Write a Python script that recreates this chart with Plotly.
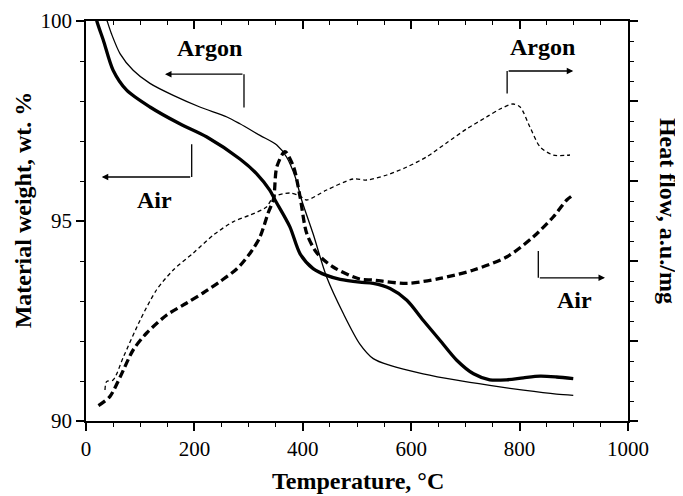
import plotly.graph_objects as go

# ---- data ----
# TG, Argon (thin solid), left axis wt.%
argon_tg_T = [30, 39, 47, 63, 87, 118, 161, 210, 260, 284, 321, 352, 370, 386, 398, 419, 444, 475, 505, 530, 561, 622, 684, 745, 807, 868, 899]
argon_tg_w = [100.4, 100, 99.68, 99.18, 98.77, 98.44, 98.14, 97.85, 97.6, 97.43, 97.14, 96.9, 96.6, 96.1, 95.52, 94.68, 93.6, 92.68, 91.93, 91.56, 91.39, 91.18, 91.02, 90.89, 90.77, 90.67, 90.64]

# TG, Air (thick solid), left axis wt.%
air_tg_T = [14, 20, 32, 50, 75, 118, 173, 223, 284, 315, 339, 349, 376, 395, 419, 444, 469, 505, 530, 561, 592, 622, 653, 684, 715, 745, 776, 807, 838, 868, 899]
air_tg_w = [100.4, 100, 99.52, 98.77, 98.27, 97.85, 97.43, 97.1, 96.55, 96.18, 95.77, 95.52, 94.86, 94.18, 93.81, 93.64, 93.54, 93.47, 93.44, 93.31, 93.02, 92.52, 92.02, 91.52, 91.18, 91.03, 91.03, 91.08, 91.12, 91.1, 91.06]

# DSC, Air (thick dashed), right axis heat flow (a.u.)
air_dsc_T = [23, 44, 63, 87, 112, 149, 186, 216, 247, 278, 303, 321, 336, 346, 352, 367, 383, 395, 407, 426, 456, 505, 530, 592, 653, 715, 776, 825, 862, 887, 899]
air_dsc_h = [0.77, 1.22, 2.2, 3.55, 4.4, 5.3, 5.9, 6.4, 6.97, 7.6, 8.4, 9.2, 10.4, 11.1, 12.7, 13.47, 12.7, 11.2, 9.4, 8.4, 7.7, 7.1, 7.05, 6.88, 7.13, 7.55, 8.2, 9.2, 10.2, 11.05, 11.3]

# DSC, Argon (thin dashed), right axis heat flow (a.u.)
argon_dsc_T = [35, 38, 50, 69, 100, 130, 161, 198, 235, 272, 303, 333, 346, 376, 395, 407, 444, 493, 518, 555, 592, 628, 665, 702, 739, 764, 788, 801, 819, 838, 862, 893]
argon_dsc_h = [1.55, 1.97, 2.05, 3.2, 5.05, 6.55, 7.55, 8.4, 9.3, 9.97, 10.3, 10.7, 11.2, 11.4, 11.25, 11.05, 11.55, 12.1, 12.05, 12.3, 12.7, 13.2, 13.9, 14.6, 15.2, 15.6, 15.85, 15.7, 14.7, 13.7, 13.3, 13.3]

x_tick_vals = [0, 200, 400, 600, 800, 1000]
y_tick_vals = [90, 95, 100]

FONT = "Liberation Serif"
BLACK = "black"

fig = go.Figure()
fig.add_trace(go.Scatter(x=argon_tg_T, y=argon_tg_w, mode="lines", xaxis="x", yaxis="y",
                         line=dict(color=BLACK, width=1.3, shape="spline", smoothing=0.8), showlegend=False))
fig.add_trace(go.Scatter(x=air_tg_T, y=air_tg_w, mode="lines", xaxis="x", yaxis="y",
                         line=dict(color=BLACK, width=3.3, shape="spline", smoothing=0.8), showlegend=False))
fig.add_trace(go.Scatter(x=air_dsc_T, y=air_dsc_h, mode="lines", xaxis="x2", yaxis="y2",
                         line=dict(color=BLACK, width=3.3, dash="8px,4px", shape="spline", smoothing=0.8), showlegend=False))
fig.add_trace(go.Scatter(x=argon_dsc_T, y=argon_dsc_h, mode="lines", xaxis="x2", yaxis="y2",
                         line=dict(color=BLACK, width=1.3, dash="4px,3px", shape="spline", smoothing=0.8), showlegend=False))

axis_common = dict(showline=True, linecolor=BLACK, linewidth=1.5, showgrid=False, zeroline=False,
                   tickcolor=BLACK, tickwidth=1.5, ticklen=8)

# the page body has an 8px margin, so the figure is offset by 8px inside the window
fig.update_layout(
    width=675, height=488,
    margin=dict(l=78, r=55, t=13, b=75, autoexpand=False),
    paper_bgcolor="white", plot_bgcolor="white",
    font=dict(family=FONT, color=BLACK, size=21),
    xaxis=dict(range=[0, 1000], tickvals=x_tick_vals, ticks="outside",
               minor=dict(dtick=50, tick0=0, ticks="outside", ticklen=4, tickwidth=1.2, tickcolor=BLACK),
               tickfont=dict(family=FONT, size=21, color=BLACK), anchor="y", **axis_common),
    xaxis2=dict(range=[0, 1000], tickvals=x_tick_vals, ticks="inside", side="top", overlaying="x",
                anchor="y2", showticklabels=False,
                minor=dict(dtick=50, tick0=0, ticks="inside", ticklen=4, tickwidth=1.2, tickcolor=BLACK),
                **axis_common),
    yaxis=dict(range=[90, 100], tickvals=y_tick_vals, ticks="outside",
               minor=dict(dtick=1, tick0=90, ticks="outside", ticklen=4, tickwidth=1.2, tickcolor=BLACK),
               tickfont=dict(family=FONT, size=21, color=BLACK), anchor="x", **axis_common),
    yaxis2=dict(range=[0, 20], dtick=4, tick0=0, ticks="outside", side="right", overlaying="y",
                anchor="x", showticklabels=False,
                minor=dict(dtick=1, tick0=0, ticks="outside", ticklen=4, tickwidth=1.2, tickcolor=BLACK),
                **axis_common),
)

title_font = dict(family=FONT, size=24, color=BLACK)
ann_font = dict(family=FONT, size=24, color=BLACK)

annotations = [
    dict(text="<b>Temperature, °C</b>", xref="paper", yref="paper", x=0.502, y=-0.15,
         showarrow=False, font=title_font, xanchor="center", yanchor="middle"),
    dict(text="<b>Material weight, wt. %</b>", xref="paper", yref="paper", x=-0.116, y=0.527,
         showarrow=False, font=title_font, textangle=-90, xanchor="center", yanchor="middle"),
    dict(text="<b>Heat flow, a.u./mg</b>", xref="paper", yref="paper", x=1.074, y=0.525,
         showarrow=False, font=title_font, textangle=90, xanchor="center", yanchor="middle"),
    # labels
    dict(text="<b>Argon</b>", xref="x", yref="y", x=227, y=99.32, showarrow=False, font=ann_font),
    dict(text="<b>Air</b>", xref="x", yref="y", x=127, y=95.52, showarrow=False, font=ann_font),
    dict(text="<b>Argon</b>", xref="x", yref="y", x=843, y=99.34, showarrow=False, font=ann_font),
    dict(text="<b>Air</b>", xref="x", yref="y", x=902, y=93.02, showarrow=False, font=ann_font),
    # arrows (horizontal part with head)
    dict(text="", xref="x", yref="y", axref="x", ayref="y", x=145.8, y=98.67, ax=291.5, ay=98.67,
         showarrow=True, arrowhead=2, arrowsize=1, arrowwidth=1.3, arrowcolor=BLACK, standoff=0),
    dict(text="", xref="x", yref="y", axref="x", ayref="y", x=29, y=96.1, ax=195, ay=96.1,
         showarrow=True, arrowhead=2, arrowsize=1, arrowwidth=1.3, arrowcolor=BLACK, standoff=0),
    dict(text="", xref="x", yref="y", axref="x", ayref="y", x=899, y=98.75, ax=777, ay=98.75,
         showarrow=True, arrowhead=2, arrowsize=1, arrowwidth=1.3, arrowcolor=BLACK, standoff=0),
    dict(text="", xref="x", yref="y", axref="x", ayref="y", x=957.6, y=93.58, ax=834.5, ay=93.58,
         showarrow=True, arrowhead=2, arrowsize=1, arrowwidth=1.3, arrowcolor=BLACK, standoff=0),
]

shapes = [
    dict(type="line", xref="x", yref="y", x0=291.5, x1=291.5, y0=98.67, y1=97.84, line=dict(color=BLACK, width=1.3)),
    dict(type="line", xref="x", yref="y", x0=195, x1=195, y0=96.92, y1=96.1, line=dict(color=BLACK, width=1.3)),
    dict(type="line", xref="x", yref="y", x0=777, x1=777, y0=98.75, y1=98.19, line=dict(color=BLACK, width=1.3)),
    dict(type="line", xref="x", yref="y", x0=834.5, x1=834.5, y0=94.25, y1=93.58, line=dict(color=BLACK, width=1.3)),
]

fig.update_layout(annotations=annotations, shapes=shapes)
fig.write_html("out.html")
